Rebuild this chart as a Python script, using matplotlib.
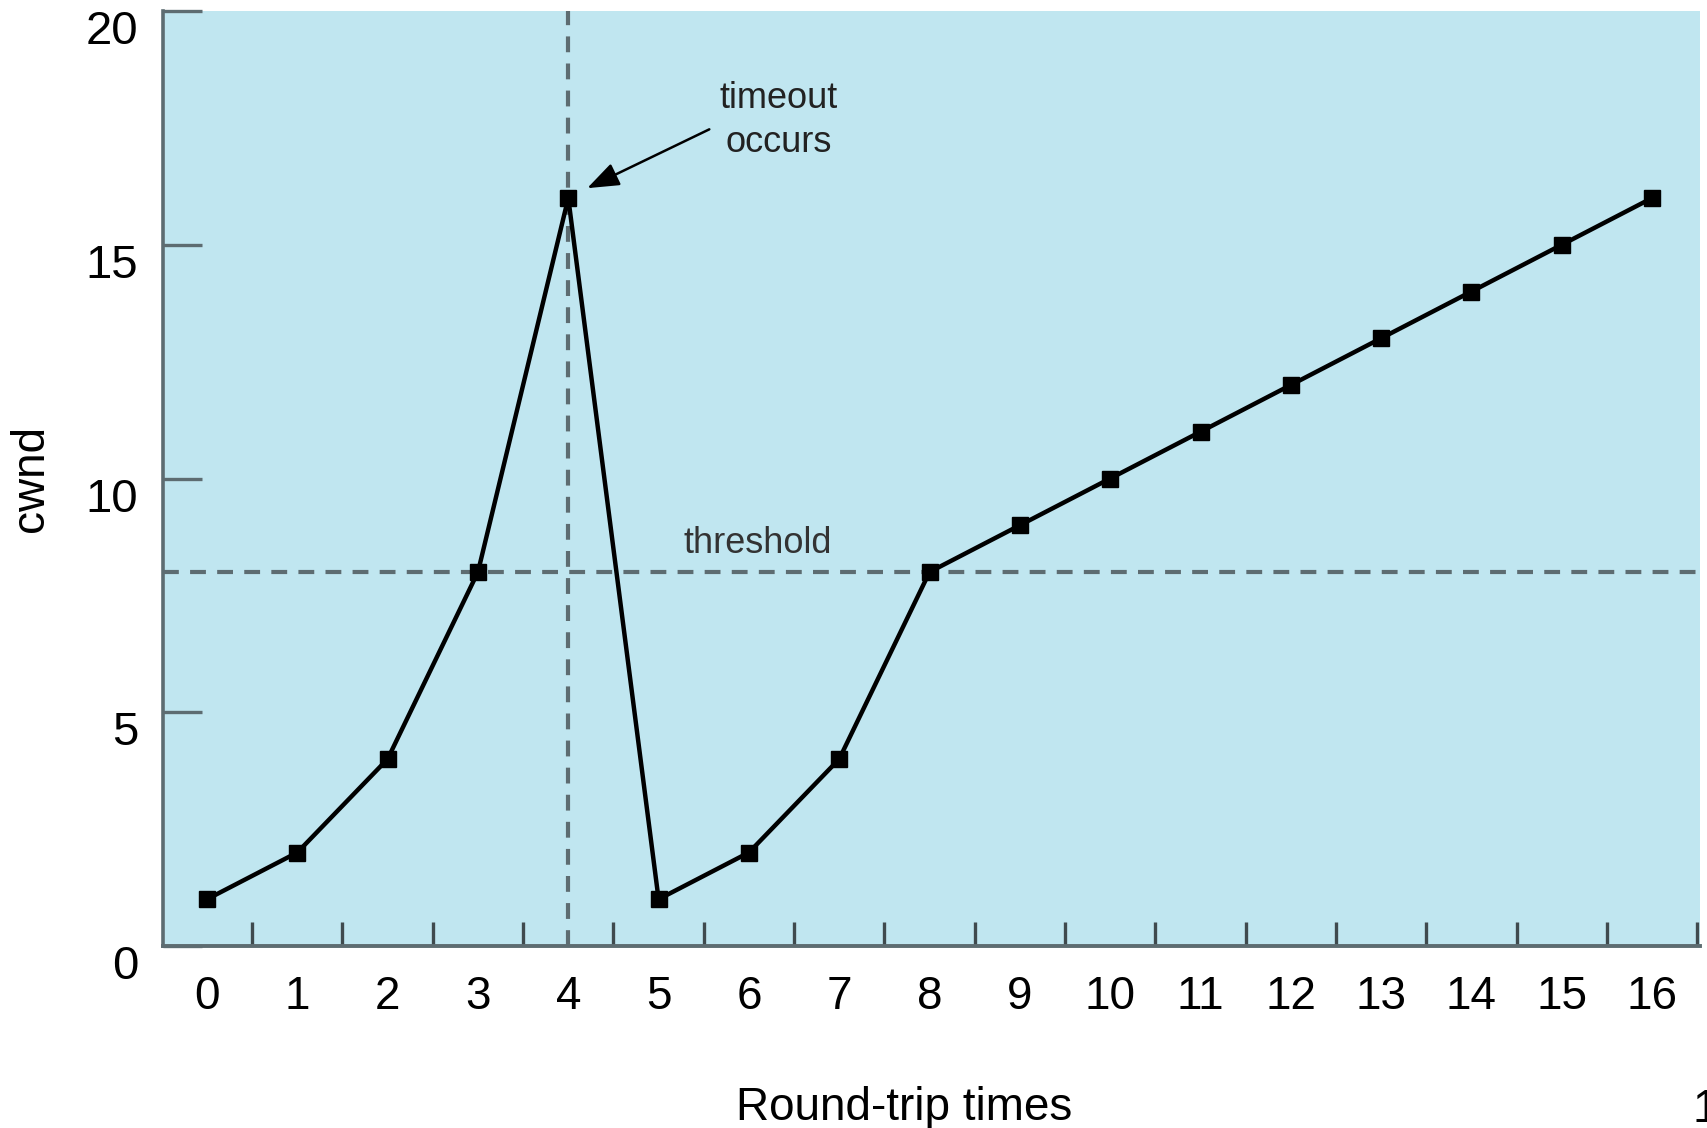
import matplotlib
matplotlib.use("Agg")
import matplotlib.pyplot as plt
from matplotlib.ticker import FixedLocator, NullFormatter
from matplotlib.transforms import ScaledTranslation

# data
rounds = list(range(17))
cwnd = [1, 2, 4, 8, 16, 1, 2, 4, 8, 9, 10, 11, 12, 13, 14, 15, 16]
threshold = 8
timeout_round = 4
y_ticks = [0, 5, 10, 15, 20]

bg = "#c0e6f0"
grey = "#5d6c71"
dash = (0, (3.8, 2.7))

plt.rcParams['font.family'] = ['Liberation Sans', 'DejaVu Sans']

fig = plt.figure(figsize=(17.07, 11.28), dpi=100)
ax = fig.add_axes([163/1707, 1 - 946/1128, (1700-163)/1707, (946-11)/1128])
ax.set_facecolor(bg)

ax.set_xlim(-0.487, 16.53)
ax.set_ylim(0, 20)

ax.axhline(threshold, color=grey, lw=3.0, linestyle=dash, zorder=1)
ax.axvline(timeout_round, color=grey, lw=3.0, linestyle=dash, zorder=1)

ax.plot(rounds, cwnd, color="black", lw=3.2, marker="s", markersize=12,
        zorder=3, clip_on=False)

ax.annotate("timeout\noccurs", xy=(4.21, 16.21), xytext=(6.33, 17.66),
            ha="center", va="center", multialignment="center", fontsize=26,
            color="#222222", linespacing=1.35,
            arrowprops=dict(arrowstyle="-|>,head_length=0.75,head_width=0.28",
                            color="black", lw=1.8, shrinkA=6, shrinkB=0,
                            relpos=(0.0, 0.45)))
ax.text(6.10, 8.41, "threshold", ha="center", va="baseline", fontsize=26,
        color="#333333")

for s in ["top", "right"]:
    ax.spines[s].set_visible(False)
ax.spines["left"].set_color(grey)
ax.spines["left"].set_linewidth(2.6)
ax.spines["bottom"].set_color(grey)
ax.spines["bottom"].set_linewidth(2.8)

ax.set_yticks(y_ticks)
ax.tick_params(axis="y", direction="in", length=28, width=2.4, color=grey,
               labelsize=34, pad=18)
for lbl in ax.get_yticklabels():
    lbl.set_transform(lbl.get_transform() + ScaledTranslation(0, -0.16, fig.dpi_scale_trans))

ax.xaxis.set_major_locator(FixedLocator(rounds))
ax.xaxis.set_minor_locator(FixedLocator([r + 0.5 for r in rounds]))
ax.xaxis.set_minor_formatter(NullFormatter())
ax.tick_params(axis="x", which="major", length=0, labelsize=33, pad=21)
ax.tick_params(axis="x", which="minor", direction="in", length=17, width=2.4,
               color="#3f4a4e")

fig.text(904/1707, 1 - 1120/1128, "Round-trip times", ha="center",
         va="baseline", fontsize=33)
fig.text(31/1707, 1 - 478/1128, "cwnd", ha="center", va="center",
         rotation=90, fontsize=33)
# partly cut-off glyph at the bottom-right corner of the source image
fig.text(1692/1707, 6/1128, "1", ha="left", va="baseline", fontsize=33)

fig.savefig("out.png", dpi=100)
